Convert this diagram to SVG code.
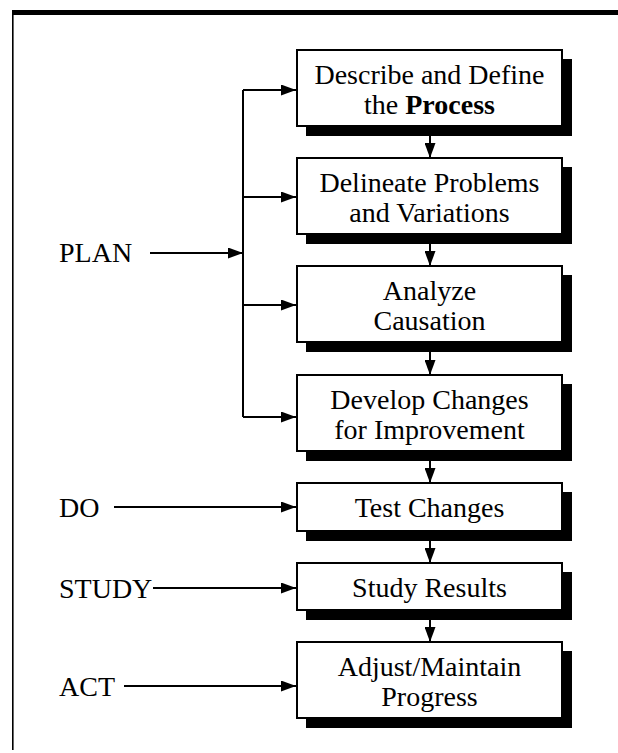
<svg xmlns="http://www.w3.org/2000/svg" width="618" height="753" viewBox="0 0 618 753">
<defs>
<style>
.box{fill:#fff;stroke:#000;stroke-width:2}
.sh{fill:#000}
.t{font-family:"Liberation Serif","Times New Roman",serif;font-size:28px;fill:#000;text-anchor:middle}
.lbl{font-family:"Liberation Serif","Times New Roman",serif;font-size:28px;fill:#000}
.c{stroke:#000;stroke-width:2;fill:none}
.ca{stroke:#000;stroke-width:2;fill:none;marker-end:url(#ah)}
</style>
<marker id="ah" markerWidth="15" markerHeight="11" refX="15" refY="5.5" orient="auto" markerUnits="userSpaceOnUse">
<path d="M0,0 L15,5.5 L0,11 z" fill="#000"/>
</marker>
</defs>
<rect width="618" height="753" fill="#fff"/>
<g id="frame">
<rect x="12" y="10" width="606" height="5" fill="#000"/>
<rect x="12" y="10" width="1.6" height="740" fill="#000"/>
</g>
<g id="connectors">
<path class="c" d="M243,90 V417"/>
<path class="ca" d="M243,90 H296"/>
<path class="ca" d="M243,197 H296"/>
<path class="ca" d="M243,305 H296"/>
<path class="ca" d="M243,417 H296"/>
<path class="ca" d="M150,253 H243"/>
<path class="ca" d="M114,507 H296"/>
<path class="ca" d="M153,588 H296"/>
<path class="ca" d="M124,686 H296"/>
<path class="ca" d="M430,135 V158"/>
<path class="ca" d="M430,243 V266"/>
<path class="ca" d="M430,351 V375"/>
<path class="ca" d="M430,460 V483"/>
<path class="ca" d="M430,540 V563"/>
<path class="ca" d="M430,619 V642"/>
</g>
<g id="n1">
<rect class="sh" x="306" y="59" width="266" height="77"/>
<rect class="box" x="297" y="50" width="265" height="76"/>
<text class="t" x="429.5" y="84">Describe and Define</text>
<text class="t" x="429.5" y="114">the <tspan font-weight="bold">Process</tspan></text>
</g>
<g id="n2">
<rect class="sh" x="306" y="167" width="266" height="77"/>
<rect class="box" x="297" y="158" width="265" height="76"/>
<text class="t" x="429.5" y="192">Delineate Problems</text>
<text class="t" x="429.5" y="222">and Variations</text>
</g>
<g id="n3">
<rect class="sh" x="306" y="275" width="266" height="77"/>
<rect class="box" x="297" y="266" width="265" height="76"/>
<text class="t" x="429.5" y="300">Analyze</text>
<text class="t" x="429.5" y="330">Causation</text>
</g>
<g id="n4">
<rect class="sh" x="306" y="384" width="266" height="77"/>
<rect class="box" x="297" y="375" width="265" height="76"/>
<text class="t" x="429.5" y="409">Develop Changes</text>
<text class="t" x="429.5" y="439">for Improvement</text>
</g>
<g id="n5">
<rect class="sh" x="306" y="492" width="266" height="49"/>
<rect class="box" x="297" y="483" width="265" height="48"/>
<text class="t" x="429.5" y="517">Test Changes</text>
</g>
<g id="n6">
<rect class="sh" x="306" y="572" width="266" height="48"/>
<rect class="box" x="297" y="563" width="265" height="47"/>
<text class="t" x="429.5" y="597">Study Results</text>
</g>
<g id="n7">
<rect class="sh" x="306" y="651" width="266" height="77"/>
<rect class="box" x="297" y="642" width="265" height="76"/>
<text class="t" x="429.5" y="676">Adjust/Maintain</text>
<text class="t" x="429.5" y="706">Progress</text>
</g>
<g id="labels">
<text class="lbl" x="59" y="262">PLAN</text>
<text class="lbl" x="59" y="517">DO</text>
<text class="lbl" x="59" y="598">STUDY</text>
<text class="lbl" x="59" y="696">ACT</text>
</g>
</svg>
